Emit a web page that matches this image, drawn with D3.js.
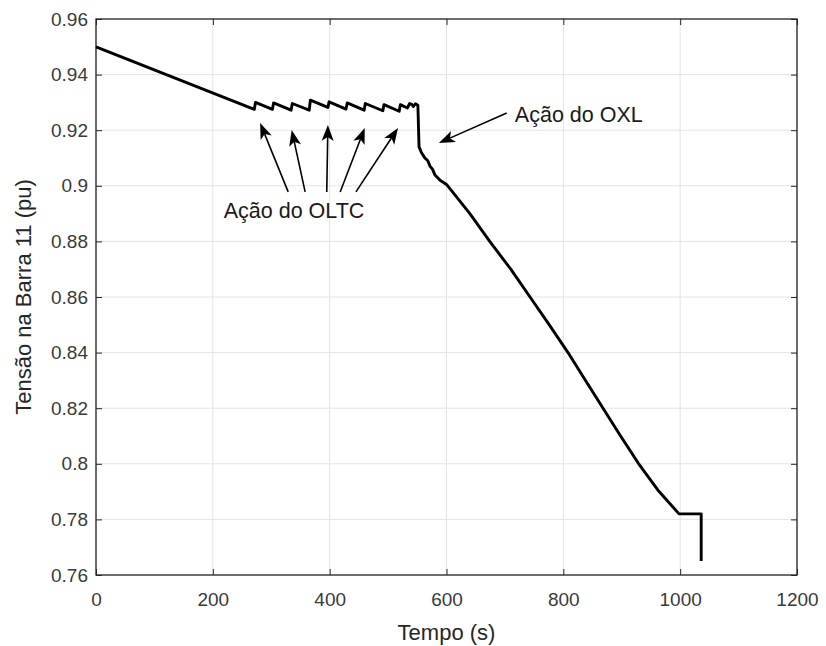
<!DOCTYPE html>
<html>
<head>
<meta charset="utf-8">
<script src="https://cdn.jsdelivr.net/npm/d3@7"></script>
<style>
  html, body { margin: 0; padding: 0; background: #fff; }
  svg { display: block; font-family: "Liberation Sans", Arial, Helvetica, sans-serif; }
</style>
</head>
<body>
<svg id="chart" width="826" height="646"></svg>
<script>
// ---- data ----
const tempo = [0, 271, 273, 302, 304, 334, 336, 365, 367, 397, 399, 428, 430, 459, 461, 491, 493, 519, 521, 533, 537, 541, 543, 547, 551,
  553, 557, 560, 563, 568, 572, 576, 580, 589, 600, 640, 674, 710, 743, 776, 808, 838, 868, 898, 929, 962, 998, 1036, 1036];
const tensao = [0.9500, 0.9275, 0.9300, 0.9275, 0.9298, 0.9272, 0.9296, 0.9272, 0.9308, 0.9282, 0.9302, 0.9276, 0.9298, 0.9272, 0.9296, 0.9270, 0.9292, 0.9268, 0.9292, 0.9280, 0.9296, 0.9292, 0.9285, 0.9295, 0.9290,
  0.9140, 0.9120, 0.9110, 0.9100, 0.9090, 0.9070, 0.9060, 0.9040, 0.9020, 0.9005, 0.8900, 0.8800, 0.8700, 0.8600, 0.8500, 0.8400, 0.8300, 0.8200, 0.8100, 0.8000, 0.7905, 0.7820, 0.7820, 0.7650];
const xTicks = [0, 200, 400, 600, 800, 1000, 1200];
const yTicks = [0.76, 0.78, 0.80, 0.82, 0.84, 0.86, 0.88, 0.90, 0.92, 0.94, 0.96];
const xLabel = "Tempo (s)";
const yLabel = "Tensão na Barra 11 (pu)";
// annotations: [text, x (s), y (pu)] and arrows [from t, from v, to t, to v]
const oltcText = ["Ação do OLTC", 339, 0.8906];
const oltcArrows = [[329, 0.8978, 281, 0.9226], [358, 0.8978, 335, 0.9201], [395, 0.8978, 397, 0.9219], [418, 0.8978, 460, 0.9208], [445, 0.8978, 517, 0.9208]];
const oxlText = ["Ação do OXL", 717, 0.9250];
const oxlArrows = [[703, 0.9262, 587, 0.9154]];

// ---- layout ----
const W = 826, H = 646;
const m = { left: 96, top: 19, right: 29, bottom: 71 };
const iw = W - m.left - m.right, ih = H - m.top - m.bottom;
const svg = d3.select("#chart");
const g = svg.append("g").attr("transform", `translate(${m.left},${m.top})`);

const x = d3.scaleLinear().domain([0, 1200]).range([0, iw]);
const y = d3.scaleLinear().domain([0.76, 0.96]).range([ih, 0]);

// grid
g.append("g").selectAll("line").data(xTicks).join("line")
  .attr("x1", d => x(d)).attr("x2", d => x(d)).attr("y1", 0).attr("y2", ih)
  .attr("stroke", "#e3e3e3").attr("stroke-width", 1);
g.append("g").selectAll("line").data(yTicks).join("line")
  .attr("y1", d => y(d)).attr("y2", d => y(d)).attr("x1", 0).attr("x2", iw)
  .attr("stroke", "#e3e3e3").attr("stroke-width", 1);

const tickCol = "#262626";
const fmtY = d => String(+d.toFixed(2));
const fmtX = d3.format("d");
// axes (ticks inward)
const axB = g.append("g").attr("transform", `translate(0,${ih})`)
  .call(d3.axisBottom(x).tickValues(xTicks).tickFormat(fmtX).tickSizeInner(-6).tickSizeOuter(0).tickPadding(18));
const axL = g.append("g")
  .call(d3.axisLeft(y).tickValues(yTicks).tickFormat(fmtY).tickSizeInner(-6).tickSizeOuter(0).tickPadding(8));
const axT = g.append("g")
  .call(d3.axisTop(x).tickValues(xTicks).tickSizeInner(-6).tickSizeOuter(0).tickFormat(""));
const axR = g.append("g").attr("transform", `translate(${iw},0)`)
  .call(d3.axisRight(y).tickValues(yTicks).tickSizeInner(-6).tickSizeOuter(0).tickFormat(""));
[axB, axL, axT, axR].forEach(a => {
  a.select(".domain").remove();
  a.selectAll("line").attr("stroke", tickCol);
  a.selectAll("text").attr("fill", "#3a3a3a").style("font-size", "19px").style("font-family", "'Liberation Sans', Arial, sans-serif");
});

// frame
g.append("rect").attr("x", 0).attr("y", 0).attr("width", iw).attr("height", ih)
  .attr("fill", "none").attr("stroke", tickCol).attr("stroke-width", 1.3);

// data line
const line = d3.line().x((d, i) => x(tempo[i])).y((d, i) => y(tensao[i])).curve(d3.curveLinear);
g.append("path").datum(tempo).attr("d", line)
  .attr("fill", "none").attr("stroke", "#000").attr("stroke-width", 2.9).attr("stroke-linejoin", "round");

// arrow drawing
function arrow(a) {
  const x1 = x(a[0]), y1 = y(a[1]), x2 = x(a[2]), y2 = y(a[3]);
  const ang = Math.atan2(y2 - y1, x2 - x1);
  const L = 16, Wd = 6, back = 12;
  const c = Math.cos(ang), s = Math.sin(ang);
  const bx = x2 - back * c, by = y2 - back * s;
  g.append("line").attr("x1", x1).attr("y1", y1).attr("x2", bx).attr("y2", by)
    .attr("stroke", "#000").attr("stroke-width", 1.6);
  const p = [
    [x2, y2],
    [x2 - L * c + Wd * s, y2 - L * s - Wd * c],
    [bx, by],
    [x2 - L * c - Wd * s, y2 - L * s + Wd * c]
  ];
  g.append("path").attr("d", "M" + p.map(q => q.join(",")).join("L") + "Z").attr("fill", "#000");
}
oltcArrows.forEach(arrow);
oxlArrows.forEach(arrow);

const annStyle = s => s.attr("fill", "#1a1a1a").style("font-size", "21.5px").style("font-family", "'Liberation Sans', Arial, sans-serif");
g.append("text").attr("x", x(oltcText[1])).attr("y", y(oltcText[2])).attr("text-anchor", "middle")
  .attr("dominant-baseline", "middle").text(oltcText[0]).call(annStyle);
g.append("text").attr("x", x(oxlText[1])).attr("y", y(oxlText[2])).attr("text-anchor", "start")
  .attr("dominant-baseline", "middle").text(oxlText[0]).call(annStyle);

// axis labels
svg.append("text").attr("x", m.left + iw / 2).attr("y", 640).attr("text-anchor", "middle")
  .text(xLabel).attr("fill", "#262626").style("font-size", "22px");
svg.append("text").attr("transform", `translate(31,${m.top + ih / 2}) rotate(-90)`).attr("text-anchor", "middle")
  .text(yLabel).attr("fill", "#262626").style("font-size", "22px");
</script>
</body>
</html>
